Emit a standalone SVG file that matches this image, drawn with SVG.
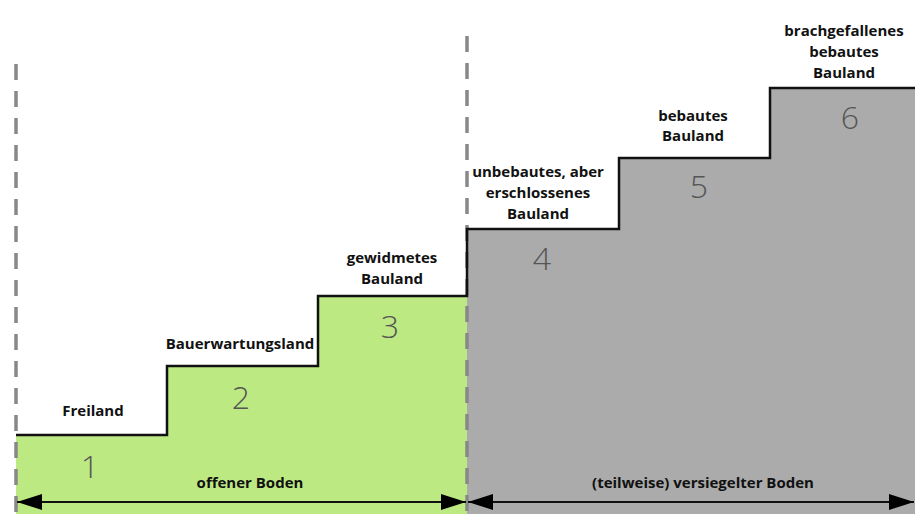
<svg xmlns="http://www.w3.org/2000/svg" width="915" height="514" viewBox="0 0 915 514">
<defs>
<style>
.lbl{font-family:"Open Sans","Liberation Sans",sans-serif;font-weight:bold;font-size:15px;fill:#111;text-anchor:middle}
.num{font-family:"Open Sans","Liberation Sans",sans-serif;font-weight:300;font-size:32px;fill:#555;text-anchor:middle}
.dash{stroke:#888;stroke-width:3.5;stroke-dasharray:16 11;fill:none}
.arr{stroke:#111;stroke-width:2;fill:none}
</style>
<marker id="ah" viewBox="0 0 25 16" refX="25" refY="8" markerWidth="25" markerHeight="16" markerUnits="userSpaceOnUse" orient="auto-start-reverse">
<path d="M0,0 L25,8 L0,16 Z" fill="#000"/>
</marker>
</defs>
<rect width="915" height="514" fill="#fff"/>
<g id="areas">
<path d="M16,435 H167 V366 H318 V296 H467 V514 H16 Z" fill="#bde983"/>
<path d="M467,229 H619 V158 H770 V88 H915 V514 H467 Z" fill="#ababab"/>
</g>
<g id="dividers">
<line class="dash" x1="16" y1="64" x2="16" y2="514"/>
<line class="dash" x1="467" y1="36" x2="467" y2="514"/>
</g>
<g id="steps-outline">
<path d="M16,435 H167 V366 H318 V296 H467 V229 H619 V158 H770 V88 H915" fill="none" stroke="#111" stroke-width="2.5"/>
</g>
<g id="step1"><text class="lbl" x="93" y="416">Freiland</text><text class="num" x="90" y="478">1</text></g>
<g id="step2"><text class="lbl" x="240" y="349">Bauerwartungsland</text><text class="num" x="241" y="409">2</text></g>
<g id="step3"><text class="lbl" x="392" y="263">gewidmetes</text><text class="lbl" x="392" y="284">Bauland</text><text class="num" x="390" y="338">3</text></g>
<g id="step4"><text class="lbl" x="538" y="177">unbebautes, aber</text><text class="lbl" x="538" y="198">erschlossenes</text><text class="lbl" x="538" y="219">Bauland</text><text class="num" x="542" y="270">4</text></g>
<g id="step5"><text class="lbl" x="693" y="121">bebautes</text><text class="lbl" x="693" y="141">Bauland</text><text class="num" x="699" y="198">5</text></g>
<g id="step6"><text class="lbl" x="844" y="36">brachgefallenes</text><text class="lbl" x="844" y="57">bebautes</text><text class="lbl" x="844" y="78">Bauland</text><text class="num" x="850" y="129">6</text></g>
<g id="connectors">
<line class="arr" x1="17" y1="502" x2="466" y2="502" marker-start="url(#ah)" marker-end="url(#ah)"/>
<line class="arr" x1="468" y1="502" x2="914" y2="502" marker-start="url(#ah)" marker-end="url(#ah)"/>
</g>
<g id="zones">
<text class="lbl" x="250" y="488">offener Boden</text>
<text class="lbl" x="703" y="488">(teilweise) versiegelter Boden</text>
</g>
</svg>
